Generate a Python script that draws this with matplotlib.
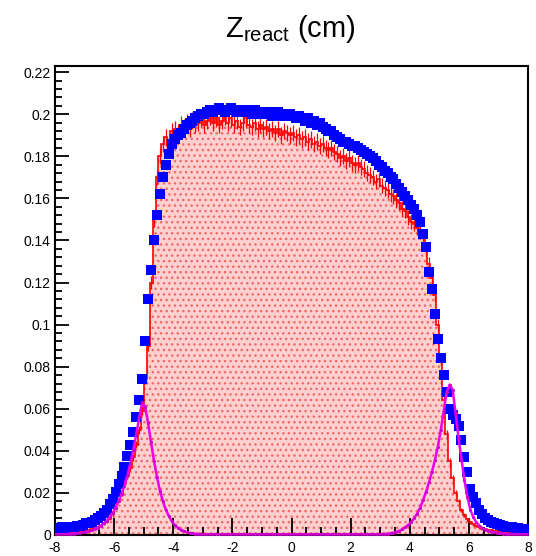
import numpy as np
import matplotlib.pyplot as plt
from matplotlib.ticker import MultipleLocator, FormatStrFormatter

plt.rcParams['font.family'] = ['Liberation Sans', 'DejaVu Sans']

# bin edges / centres of the Z_react histograms (cm)
edges = np.linspace(-8, 8, 161)
centers = 0.5 * (edges[:-1] + edges[1:])

# red: filled histogram with error bars
red = [0.0008, 0.0009, 0.0011, 0.0010, 0.0012, 0.0014, 0.0013, 0.0016, 0.0018, 0.0020,
       0.0022, 0.0025, 0.0028, 0.0032, 0.0037, 0.0043, 0.0052, 0.0063, 0.0078, 0.0098,
       0.0145, 0.0170, 0.0200, 0.0240, 0.0280, 0.0320, 0.0370, 0.0430, 0.0500, 0.0590,
       0.0740, 0.0900, 0.1200, 0.1500, 0.1700, 0.1800, 0.1860, 0.1890, 0.1870, 0.1920,
       0.1930, 0.1910, 0.1950, 0.1940, 0.1960, 0.1930, 0.1970, 0.1950, 0.1960, 0.1980,
       0.1950, 0.1970, 0.1990, 0.1960, 0.1980, 0.1950, 0.1970, 0.1990, 0.1960, 0.1980,
       0.1950, 0.1970, 0.1940, 0.1960, 0.1980, 0.1950, 0.1940, 0.1960, 0.1930, 0.1950,
       0.1930, 0.1940, 0.1920, 0.1930, 0.1910, 0.1930, 0.1900, 0.1920, 0.1910, 0.1900,
       0.1910, 0.1890, 0.1900, 0.1880, 0.1890, 0.1870, 0.1880, 0.1860, 0.1870, 0.1850,
       0.1860, 0.1840, 0.1830, 0.1840, 0.1820, 0.1810, 0.1790, 0.1800, 0.1780, 0.1790,
       0.1770, 0.1760, 0.1770, 0.1750, 0.1740, 0.1720, 0.1710, 0.1700, 0.1680, 0.1690,
       0.1660, 0.1650, 0.1640, 0.1620, 0.1610, 0.1590, 0.1580, 0.1550, 0.1540, 0.1510,
       0.1490, 0.1480, 0.1460, 0.1440, 0.1410, 0.1360, 0.1290, 0.1220, 0.1140, 0.1000,
       0.0830, 0.0640, 0.0480, 0.0350, 0.0270, 0.0200, 0.0160, 0.0120, 0.0095, 0.0075,
       0.0060, 0.0050, 0.0042, 0.0036, 0.0030, 0.0027, 0.0024, 0.0022, 0.0020, 0.0018,
       0.0016, 0.0015, 0.0013, 0.0012, 0.0011, 0.0010, 0.0009, 0.0009, 0.0008, 0.0008]

# blue: square markers
blue = [0.0035, 0.0034, 0.0036, 0.0035, 0.0037, 0.0038, 0.0040, 0.0041, 0.0044, 0.0046,
        0.0055, 0.0059, 0.0064, 0.0071, 0.0080, 0.0091, 0.0104, 0.0120, 0.0145, 0.0172,
        0.0205, 0.0240, 0.0280, 0.0325, 0.0375, 0.0430, 0.0490, 0.0560, 0.0640, 0.0740,
        0.0920, 0.1120, 0.1260, 0.1400, 0.1520, 0.1620, 0.1700, 0.1760, 0.1810, 0.1860,
        0.1880, 0.1900, 0.1910, 0.1930, 0.1950, 0.1960, 0.1970, 0.1980, 0.1990, 0.2000,
        0.2000, 0.2010, 0.2020, 0.2010, 0.2020, 0.2030, 0.2020, 0.2010, 0.2020, 0.2030,
        0.2020, 0.2010, 0.2020, 0.2010, 0.2020, 0.2010, 0.2000, 0.2020, 0.2010, 0.2000,
        0.2010, 0.2000, 0.2010, 0.1990, 0.2000, 0.2010, 0.1990, 0.2000, 0.1990, 0.2000,
        0.1990, 0.1980, 0.1990, 0.1980, 0.1970, 0.1980, 0.1960, 0.1970, 0.1950, 0.1960,
        0.1940, 0.1930, 0.1920, 0.1920, 0.1900, 0.1890, 0.1880, 0.1870, 0.1870, 0.1860,
        0.1850, 0.1850, 0.1840, 0.1830, 0.1820, 0.1810, 0.1800, 0.1790, 0.1780, 0.1760,
        0.1750, 0.1730, 0.1720, 0.1700, 0.1690, 0.1670, 0.1650, 0.1630, 0.1610, 0.1590,
        0.1570, 0.1550, 0.1520, 0.1490, 0.1430, 0.1370, 0.1250, 0.1170, 0.1050, 0.0930,
        0.0840, 0.0760, 0.0680, 0.0600, 0.0570, 0.0550, 0.0520, 0.0450, 0.0370, 0.0300,
        0.0220, 0.0180, 0.0150, 0.0120, 0.0098, 0.0082, 0.0071, 0.0062, 0.0055, 0.0050,
        0.0046, 0.0043, 0.0040, 0.0038, 0.0036, 0.0034, 0.0031, 0.0029, 0.0027, 0.0025]

# magenta: two edge peaks
magenta = [0.0003, 0.0003, 0.0004, 0.0004, 0.0005, 0.0006, 0.0007, 0.0008, 0.0010, 0.0012,
           0.0015, 0.0018, 0.0022, 0.0028, 0.0035, 0.0044, 0.0055, 0.0068, 0.0085, 0.0105,
           0.0130, 0.0160, 0.0195, 0.0235, 0.0285, 0.0340, 0.0405, 0.0480, 0.0560, 0.0630,
           0.0610, 0.0530, 0.0440, 0.0350, 0.0275, 0.0210, 0.0160, 0.0120, 0.0090, 0.0065,
           0.0048, 0.0035, 0.0026, 0.0019, 0.0014, 0.0010, 0.0008, 0.0006, 0.0005, 0.0004] \
          + [0.0003] * 60 + \
          [0.0004, 0.0005, 0.0006, 0.0008, 0.0011, 0.0015, 0.0020, 0.0027, 0.0036, 0.0048,
           0.0062, 0.0080, 0.0102, 0.0130, 0.0165, 0.0205, 0.0250, 0.0300, 0.0355, 0.0420,
           0.0500, 0.0590, 0.0680, 0.0715, 0.0690, 0.0580, 0.0460, 0.0360, 0.0260, 0.0180,
           0.0120, 0.0085, 0.0060, 0.0045, 0.0033, 0.0026, 0.0020, 0.0015, 0.0012, 0.0010,
           0.0008, 0.0007, 0.0006, 0.0005, 0.0005, 0.0004, 0.0004, 0.0003, 0.0003, 0.0003]

red = np.array(red)
blue = np.array(blue)
magenta = np.array(magenta)
red_err = 0.009 * np.sqrt(red)

fig = plt.figure(figsize=(5.36, 5.56), dpi=100)
ax = fig.add_axes([0.1026, 0.0378, 0.8825, 0.843])

# red filled histogram
ax.stairs(red, edges, fill=True, facecolor='#ffd0d0', edgecolor='#f06a6a',
          hatch='...', linewidth=0, zorder=1)
ax.stairs(red, edges, color='red', linewidth=1.2, zorder=2)
ax.errorbar(centers, red, yerr=red_err, fmt='none', ecolor='red', elinewidth=0.9, zorder=2)

# blue squares
ax.plot(centers, blue, 's', color='blue', markersize=7.5, markeredgewidth=0, zorder=3)

# magenta curve
ax.plot(centers, magenta, '-', color='#ee00ee', linewidth=1.8, zorder=4)
ax.plot(centers, magenta, '.', color='#cc00cc', markersize=2.5, zorder=4)

ax.set_xlim(-8, 8)
ax.set_ylim(0, 0.2228)

ax.xaxis.set_major_locator(MultipleLocator(2))
ax.xaxis.set_minor_locator(MultipleLocator(0.5))
ax.yaxis.set_major_locator(MultipleLocator(0.02))
ax.yaxis.set_minor_locator(MultipleLocator(0.004))
ax.yaxis.set_major_formatter(FormatStrFormatter('%g'))
ax.xaxis.set_major_formatter(FormatStrFormatter('%g'))

ax.tick_params(axis='both', which='both', direction='in', top=False, right=False,
               labelsize=10, width=1.3, colors='black')
ax.tick_params(axis='x', which='major', length=12, pad=4)
ax.tick_params(axis='x', which='minor', length=6)
ax.tick_params(axis='y', which='major', length=10, pad=3)
ax.tick_params(axis='y', which='minor', length=5)
for s in ax.spines.values():
    s.set_linewidth(1.5)

fig.text(0.541, 0.9335, r'$\mathregular{Z_{react}}$ (cm)', ha='center', va='baseline', fontsize=21)

fig.savefig('out.png', dpi=100)
